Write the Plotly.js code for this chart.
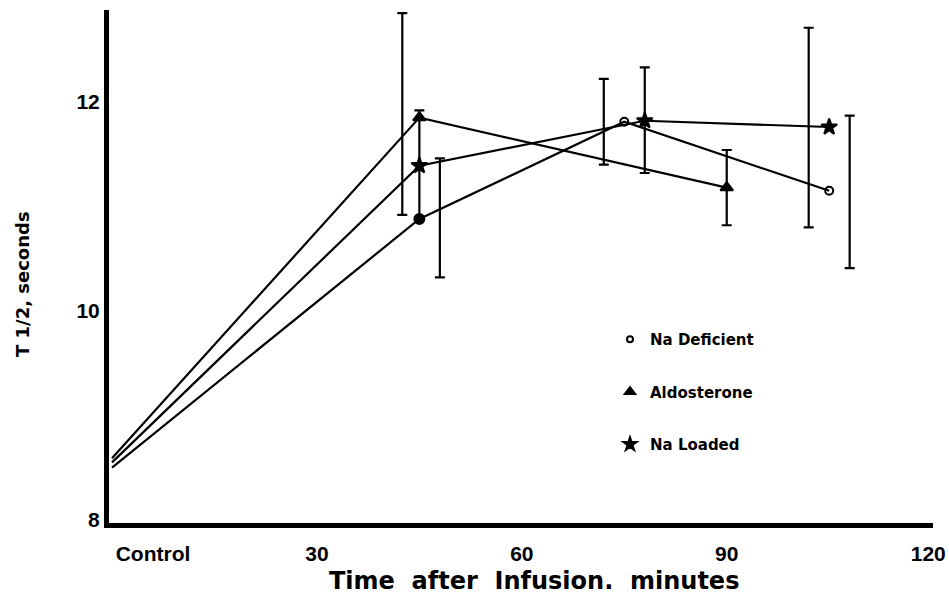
<!DOCTYPE html>
<html>
<head>
<meta charset="utf-8">
<script src="https://cdn.plot.ly/plotly-3.0.1.min.js"></script>
<style>
  html, body { margin: 0; padding: 0; background: #ffffff; }
  #chart { width: 949px; height: 600px; }
</style>
</head>
<body>
<div id="chart"></div>
<script>
// ---- data ----
const seriesNames = ["Na Deficient", "Aldosterone", "Na Loaded"];

const naDeficientMin = [0, 45, 75, 105];
const naDeficientT = [8.50, 10.88, 11.81, 11.15];
const naDeficientErrPlus = [0.58, 0.41, 0.72];
const naDeficientErrMinus = [0.56, 0.41, 0.74];
const naDeficientErrShift = [3, -3, 3];

const aldosteroneMin = [0, 45, 90];
const aldosteroneT = [8.59, 11.85, 11.18];
const aldosteroneErrPlus = [1.00, 0.36];
const aldosteroneErrMinus = [0.93, 0.36];
const aldosteroneErrShift = [-2.5, 0];

const naLoadedMin = [0, 45, 78, 105];
const naLoadedT = [8.55, 11.39, 11.82, 11.76];
const naLoadedErrPlus = [0.53, 0.51, 0.95];
const naLoadedErrMinus = [0.51, 0.50, 0.96];
const naLoadedErrShift = [0, 0, -3];

const xTickVals = [6, 30, 60, 90, 119.5];
const xTickText = ["Control", "30", "60", "90", "120"];
const yTickVals = [8, 10, 12];
const yTickText = ["8", "10", "12"];

const xTitle = "Time  after  Infusion.  minutes";
const yTitle = "T 1/2, seconds";

// ---- build traces ----
const BLACK = "#000000";
const boldFont = "DejaVu Sans, Liberation Sans, Arial, sans-serif";
const tickFontFam = "Liberation Sans, Arial, sans-serif";

function lineTrace(name, xs, ys, symbols, sizes) {
  return {
    type: "scatter", mode: "lines+markers", name: name, showlegend: false,
    x: xs, y: ys, opacity: 1,
    line: { color: BLACK, width: 2.2 },
    marker: { color: BLACK, opacity: 1, symbol: symbols, size: sizes, line: { color: BLACK, width: 2 } },
    hoverinfo: "x+y"
  };
}

function errTrace(name, xs, ys, shift, plus, minus) {
  const ex = xs.slice(1).map((v, i) => v + shift[i]);
  return {
    type: "scatter", mode: "markers", name: name + " SE", showlegend: false,
    x: ex, y: ys.slice(1),
    marker: { size: 1, opacity: 0, color: BLACK },
    error_y: { type: "data", symmetric: false, array: plus, arrayminus: minus,
               color: BLACK, thickness: 2.2, width: 5 },
    hoverinfo: "skip"
  };
}

function legendTrace(name, symbol, size) {
  return {
    type: "scatter", mode: "markers", name: name, x: [null], y: [null],
    legendgroup: name, showlegend: true,
    marker: { color: BLACK, opacity: 1, symbol: symbol, size: size, line: { color: BLACK, width: 2 } }
  };
}

const traces = [
  errTrace(seriesNames[0], naDeficientMin, naDeficientT, naDeficientErrShift, naDeficientErrPlus, naDeficientErrMinus),
  errTrace(seriesNames[1], aldosteroneMin, aldosteroneT, aldosteroneErrShift, aldosteroneErrPlus, aldosteroneErrMinus),
  errTrace(seriesNames[2], naLoadedMin, naLoadedT, naLoadedErrShift, naLoadedErrPlus, naLoadedErrMinus),
  lineTrace(seriesNames[0], naDeficientMin, naDeficientT,
            ["circle", "circle", "circle-open", "circle-open"], [0, 10, 8, 8]),
  lineTrace(seriesNames[1], aldosteroneMin, aldosteroneT,
            ["triangle-up", "triangle-up", "triangle-up"], [0, 11, 11]),
  lineTrace(seriesNames[2], naLoadedMin, naLoadedT,
            ["star", "star", "star", "star"], [0, 12, 12, 12]),
  legendTrace(seriesNames[0], "circle-open", 6),
  legendTrace(seriesNames[1], "triangle-up", 9),
  legendTrace(seriesNames[2], "star", 10)
];

const layout = {
  width: 949, height: 600,
  margin: { l: 109, r: 16, t: 10, b: 77, pad: 0 },
  paper_bgcolor: "#ffffff", plot_bgcolor: "#ffffff",
  showlegend: true,
  legend: {
    x: 0.608, xanchor: "left", y: 0.39, yanchor: "top",
    font: { family: boldFont, size: 15, color: BLACK, weight: "bold" },
    tracegroupgap: 30, bgcolor: "rgba(0,0,0,0)", traceorder: "grouped"
  },
  xaxis: {
    range: [-0.44, 120.2], showgrid: false, zeroline: false,
    showline: true, linecolor: BLACK, linewidth: 5, ticks: "",
    tickmode: "array", tickvals: xTickVals, ticktext: xTickText,
    tickfont: { family: tickFontFam, size: 21, color: BLACK, weight: "bold" },
    ticklabelstandoff: 8, ticklabeloverflow: "allow"
  },
  yaxis: {
    range: [7.97, 12.88], showgrid: false, zeroline: false,
    showline: true, linecolor: BLACK, linewidth: 5, ticks: "",
    tickmode: "array", tickvals: yTickVals, ticktext: yTickText,
    tickfont: { family: tickFontFam, size: 21, color: BLACK, weight: "bold" }
  },
  annotations: [
    { text: xTitle, xref: "paper", yref: "paper", x: (534 - 109) / 824, y: -(581 - 523) / 513,
      xanchor: "center", yanchor: "middle", showarrow: false,
      font: { family: boldFont, size: 24, color: BLACK, weight: "bold" } },
    { text: yTitle, xref: "paper", yref: "paper", x: (22 - 109) / 824, y: (523 - 284) / 513,
      xanchor: "center", yanchor: "middle", showarrow: false, textangle: -90,
      font: { family: boldFont, size: 18, color: BLACK, weight: "bold" } }
  ]
};

Plotly.newPlot("chart", traces, layout, { displayModeBar: false, staticPlot: true });
</script>
</body>
</html>
